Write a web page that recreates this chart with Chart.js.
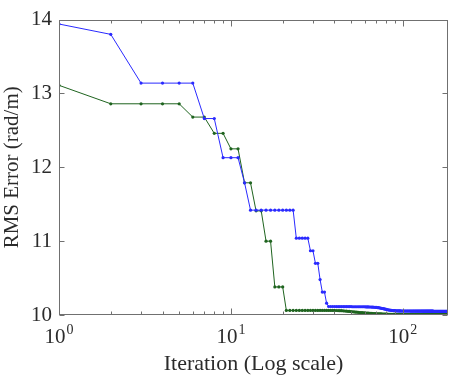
<!DOCTYPE html>
<html>
<head>
<meta charset="utf-8">
<script src="https://cdn.jsdelivr.net/npm/chart.js@4/dist/chart.umd.min.js"></script>
<style>
  html, body { margin: 0; padding: 0; background: #fff; }
  #wrap { width: 452px; height: 377px; }
</style>
</head>
<body>
<div id="wrap"><canvas id="myChart" width="452" height="377"></canvas></div>
<script>
"use strict";

// RMS error per iteration (iteration = index + 1)
const blueErr = [
  13.94, 13.80, 13.14, 13.14, 13.14, 13.14, 12.66, 12.66, 12.13, 12.13,
  12.13, 11.79, 11.42, 11.42, 11.42, 11.42, 11.42, 11.42, 11.42, 11.42,
  11.42, 11.42, 11.42, 11.04, 11.04, 11.04, 11.04, 11.04, 10.87, 10.87,
  10.70, 10.70, 10.48, 10.31, 10.31, 10.16, 10.115, 10.115, 10.115, 10.115,
  10.114, 10.114, 10.114, 10.114, 10.114, 10.114, 10.114, 10.114, 10.114, 10.114,
  10.112, 10.112, 10.112, 10.112, 10.112, 10.112, 10.112, 10.112, 10.112, 10.112,
  10.11, 10.11, 10.109, 10.108, 10.108, 10.107, 10.106, 10.105, 10.104, 10.103,
  10.101, 10.099, 10.097, 10.094, 10.091, 10.088, 10.085, 10.082, 10.079, 10.076,
  10.073, 10.07, 10.068, 10.066, 10.064, 10.062, 10.061, 10.06, 10.059, 10.058,
  10.057, 10.057, 10.056, 10.056, 10.055, 10.055, 10.055, 10.054, 10.054, 10.054,
  10.054, 10.054, 10.054, 10.054, 10.054, 10.054, 10.054, 10.054, 10.054, 10.054,
  10.053, 10.053, 10.053, 10.053, 10.053, 10.053, 10.053, 10.053, 10.053, 10.053,
  10.053, 10.053, 10.053, 10.053, 10.053, 10.053, 10.053, 10.053, 10.053, 10.053,
  10.052, 10.052, 10.052, 10.052, 10.052, 10.052, 10.052, 10.052, 10.052, 10.052,
  10.052, 10.052, 10.052, 10.052, 10.052, 10.052, 10.052, 10.052, 10.052, 10.052,
  10.051, 10.051, 10.051, 10.051, 10.051, 10.051, 10.051, 10.051, 10.051, 10.051,
  10.051, 10.051, 10.051, 10.051, 10.051, 10.051, 10.051, 10.051, 10.051, 10.051,
  10.05, 10.05, 10.05, 10.05, 10.05, 10.05, 10.05, 10.05, 10.05, 10.05,
  10.05, 10.05, 10.05
];

const greenErr = [
  13.11, 12.86, 12.86, 12.86, 12.86, 12.68, 12.68, 12.46, 12.46, 12.25,
  12.25, 11.79, 11.79, 11.41, 11.41, 11.00, 11.00, 10.38, 10.38, 10.38,
  10.062, 10.062, 10.062, 10.062, 10.062, 10.062, 10.062, 10.062, 10.062, 10.062,
  10.062, 10.062, 10.062, 10.062, 10.062, 10.062, 10.062, 10.062, 10.062, 10.062,
  10.061, 10.06, 10.059, 10.058, 10.056, 10.054, 10.052, 10.05, 10.048, 10.046,
  10.044, 10.042, 10.04, 10.038, 10.036, 10.034, 10.032, 10.031, 10.03, 10.029,
  10.027, 10.026, 10.025, 10.024, 10.022, 10.021, 10.02, 10.019, 10.018, 10.017,
  10.016, 10.016, 10.015, 10.014, 10.014, 10.013, 10.013, 10.012, 10.012, 10.011,
  10.011, 10.01, 10.01, 10.01, 10.009, 10.009, 10.009, 10.008, 10.008, 10.008,
  10.008, 10.008, 10.008, 10.008, 10.008, 10.008, 10.007, 10.007, 10.007, 10.007,
  10.007, 10.007, 10.007, 10.007, 10.007, 10.007, 10.007, 10.007, 10.007, 10.007,
  10.006, 10.006, 10.006, 10.006, 10.006, 10.006, 10.006, 10.006, 10.006, 10.006,
  10.006, 10.006, 10.006, 10.006, 10.006, 10.006, 10.006, 10.006, 10.006, 10.006,
  10.006, 10.006, 10.006, 10.006, 10.006, 10.006, 10.006, 10.006, 10.006, 10.006,
  10.005, 10.005, 10.005, 10.005, 10.005, 10.005, 10.005, 10.005, 10.005, 10.005,
  10.005, 10.005, 10.005, 10.005, 10.005, 10.005, 10.005, 10.005, 10.005, 10.005,
  10.005, 10.005, 10.005, 10.005, 10.005, 10.005, 10.005, 10.005, 10.005, 10.005,
  10.005, 10.005, 10.005, 10.005, 10.005, 10.005, 10.005, 10.005, 10.005, 10.005,
  10.005, 10.005, 10.005
];

const xMajorTicks = [1, 10, 100];
const xMinorTicks = [2, 3, 4, 5, 6, 7, 8, 9, 20, 30, 40, 50, 60, 70, 80, 90];
const yTicks = [10, 11, 12, 13, 14];

const FONT = "'Liberation Serif', 'Times New Roman', serif";
const TEXT = '#2b2b2b';
const AXIS = '#707070';

const toPoints = arr => arr.map((v, i) => ({ x: i + 1, y: v }));

// MATLAB style box with inward ticks on all sides, plus 10^n labels
const matlabAxes = {
  id: 'matlabAxes',
  afterDraw(chart) {
    const { ctx, chartArea: a, scales: { x, y } } = chart;
    ctx.save();
    ctx.strokeStyle = AXIS;
    ctx.lineWidth = 1;
    const L = Math.round(a.left) + 0.5, R = Math.round(a.right) - 0.5;
    const T = Math.round(a.top) + 0.5, B = Math.round(a.bottom) - 0.5;
    ctx.strokeRect(L, T, R - L, B - T);

    ctx.beginPath();
    const xTick = (v, len) => {
      const px = Math.round(x.getPixelForValue(v)) + 0.5;
      ctx.moveTo(px, B); ctx.lineTo(px, B - len);
      ctx.moveTo(px, T); ctx.lineTo(px, T + len);
    };
    xMajorTicks.forEach(v => xTick(v, 6));
    xMinorTicks.forEach(v => xTick(v, 3));
    yTicks.forEach(v => {
      const py = Math.round(y.getPixelForValue(v)) + 0.5;
      ctx.moveTo(L, py); ctx.lineTo(L + 5, py);
      ctx.moveTo(R, py); ctx.lineTo(R - 5, py);
    });
    ctx.stroke();

    // x tick labels as 10 with a raised exponent
    ctx.fillStyle = TEXT;
    ctx.textBaseline = 'alphabetic';
    ctx.textAlign = 'left';
    xMajorTicks.forEach(v => {
      const px = x.getPixelForValue(v);
      const exp = String(Math.round(Math.log10(v)));
      ctx.font = '21px ' + FONT;
      const wBase = ctx.measureText('10').width;
      ctx.font = '14px ' + FONT;
      const wExp = ctx.measureText(exp).width;
      const start = px - (wBase + 1 + wExp) / 2;
      ctx.font = '21px ' + FONT;
      ctx.fillText('10', start, a.bottom + 28);
      ctx.font = '14px ' + FONT;
      ctx.fillText(exp, start + wBase + 1, a.bottom + 19);
    });
    ctx.restore();
  }
};

const config = {
  type: 'line',
  data: {
    datasets: [
      {
        label: 'Blue run',
        data: toPoints(blueErr),
        borderColor: '#2a2aff',
        backgroundColor: '#2a2aff',
        borderWidth: 1,
        pointRadius: 1.6,
        pointBorderWidth: 0,
        tension: 0,
      },
      {
        label: 'Green run',
        data: toPoints(greenErr),
        borderColor: '#1f641f',
        backgroundColor: '#1f641f',
        borderWidth: 1,
        pointRadius: 1.6,
        pointBorderWidth: 0,
        tension: 0,
      }
    ]
  },
  options: {
    responsive: false,
    animation: false,
    layout: { padding: { top: 10, right: 2, left: 0, bottom: 0 } },
    plugins: {
      legend: { display: false },
      tooltip: { enabled: false },
    },
    scales: {
      x: {
        type: 'logarithmic',
        min: 1,
        max: 183,
        grid: { display: false, drawTicks: false },
        border: { display: false },
        ticks: { display: false },
        afterFit: scale => { scale.height = 62; },
        title: {
          display: true,
          text: 'Iteration (Log scale)',
          color: TEXT,
          font: { family: FONT, size: 22 },
          padding: { top: 6, bottom: 0 },
        },
      },
      y: {
        min: 10,
        max: 14,
        grid: { display: false, drawTicks: false },
        border: { display: false },
        afterBuildTicks: scale => { scale.ticks = yTicks.map(v => ({ value: v })); },
        afterFit: scale => { scale.width = 59; },
        ticks: {
          color: TEXT,
          padding: 7,
          font: { family: FONT, size: 21 },
        },
        title: {
          display: true,
          text: 'RMS Error (rad/m)',
          color: TEXT,
          font: { family: FONT, size: 21 },
          padding: { top: 0, bottom: 0 },
        },
      }
    }
  },
  plugins: [matlabAxes],
};

const myChart = new Chart(document.getElementById('myChart'), config);
</script>
</body>
</html>
